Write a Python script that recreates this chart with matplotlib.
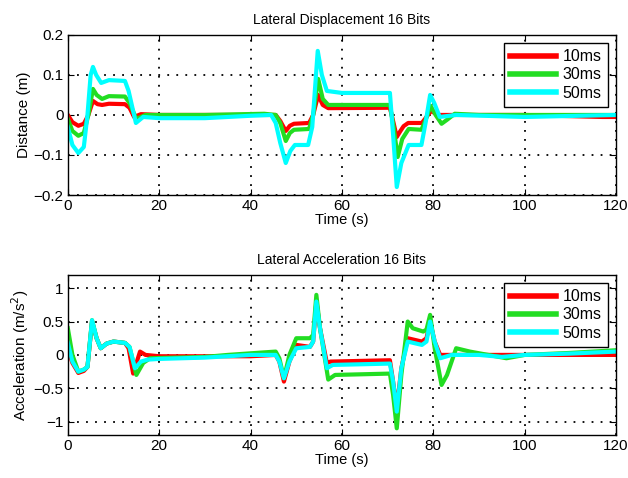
import numpy as np
import matplotlib
matplotlib.use("Agg")
import matplotlib.pyplot as plt

plt.rcParams['font.family'] = ['Liberation Sans', 'DejaVu Sans']

labels = ['10ms', '30ms', '50ms']
colors = ['#ff0000', '#22dd22', '#00ffff']

# lateral displacement (m)
d10_t = [0, 1, 2.3, 3.5, 4.5, 5.5, 6.5, 7.5, 9, 12.5, 13.5, 14.5, 16, 20, 45.5, 46.5, 47.7, 48.6, 49.5, 52.8, 53.7,
         54.8, 55.8, 57, 70.5, 71.3, 72, 72.8, 73.5, 74.5, 77.5, 78.5, 79.5, 81, 100, 117, 120]
d10_y = [0.0, -0.018, -0.027, -0.022, 0.0, 0.035, 0.027, 0.025, 0.028, 0.027, 0.018, -0.005, 0.002, 0.0, 0.0,
         -0.015, -0.04, -0.027, -0.022, -0.02, 0.0, 0.05, 0.025, 0.017, 0.018, -0.02, -0.055, -0.04, -0.028,
         -0.02, -0.02, -0.005, 0.01, 0.0, 0.0, -0.005, -0.005]
d30_t = [0, 1, 2.3, 3.5, 4.5, 5.5, 6.3, 7.5, 9, 12.5, 13.5, 15, 17, 30, 43, 45.5, 46.5, 47.7, 48.6, 49.5, 52.8,
         53.7, 54.8, 55.8, 57, 70.5, 71.3, 72.2, 73.2, 74.6, 77.4, 78.4, 79.4, 80.5, 81.8, 83, 84.7, 90, 120]
d30_y = [-0.01, -0.04, -0.052, -0.045, 0.0, 0.065, 0.05, 0.04, 0.047, 0.046, 0.03, -0.01, 0.0, 0.0, 0.003, 0.0,
         -0.02, -0.065, -0.045, -0.037, -0.035, 0.0, 0.09, 0.04, 0.025, 0.025, -0.03, -0.105, -0.06, -0.035,
         -0.037, -0.01, 0.023, 0.0, -0.022, -0.012, 0.003, 0.0, 0.0]
d50_t = [0, 1, 2.3, 3.5, 4.3, 5.0, 5.5, 6.2, 7.3, 9, 12.5, 13.3, 14.9, 16.5, 20, 30, 40, 44.5, 45.5, 46.5, 47.7,
         48.7, 49.7, 52.6, 53.5, 54.7, 55.6, 56.7, 60, 70.5, 71.2, 72, 73, 74.6, 77.4, 78.3, 79.3, 80.2, 81.4,
         85, 100, 120]
d50_y = [-0.03, -0.075, -0.095, -0.08, 0.0, 0.1, 0.12, 0.1, 0.08, 0.087, 0.085, 0.06, -0.02, -0.005, -0.008,
         -0.008, -0.002, 0.0, -0.02, -0.07, -0.12, -0.09, -0.075, -0.075, -0.03, 0.16, 0.1, 0.06, 0.055, 0.055,
         -0.05, -0.18, -0.12, -0.075, -0.075, -0.02, 0.05, 0.03, -0.005, 0.0, -0.005, 0.0]

# lateral acceleration (m/s^2)
a10_t = [0, 1, 2.3, 3.5, 4.3, 5.3, 6.3, 7.2, 8.5, 10, 12.5, 13.3, 14.3, 15.8, 17, 20, 40, 45.5, 46.3, 47.3, 48.5,
         50, 53, 53.7, 54.4, 55.2, 56.7, 57.5, 70.5, 71.2, 72, 73, 74.4, 77.5, 78.5, 79.3, 80.3, 81.5, 84, 120]
a10_y = [0.1, -0.12, -0.27, -0.24, -0.18, 0.5, 0.25, 0.1, 0.17, 0.2, 0.18, 0.1, -0.28, 0.05, 0.0, -0.02, -0.02,
         0.0, -0.1, -0.4, -0.1, 0.15, 0.12, 0.2, 0.8, 0.4, -0.12, -0.1, -0.08, -0.4, -0.8, -0.2, 0.25, 0.2, 0.25,
         0.5, 0.2, 0.0, 0.0, 0.0]
a30_t = [0, 1, 2.3, 3.5, 4.3, 5.3, 6.3, 7.2, 8.5, 10, 12.5, 13.5, 15, 16.5, 18, 30, 35, 45.5, 46.3, 47.3, 48.5,
         50, 53, 53.7, 54.4, 55.2, 57, 58.5, 70.5, 71.2, 72, 73, 74.4, 75.5, 77.8, 78.5, 79.3, 80.3, 81.8, 83,
         85, 88, 92, 96, 100, 110, 120]
a30_y = [0.4, 0.0, -0.25, -0.22, -0.18, 0.52, 0.25, 0.1, 0.17, 0.2, 0.18, 0.12, -0.3, -0.12, -0.05, -0.03, 0.0,
         0.05, -0.05, -0.35, 0.0, 0.25, 0.25, 0.3, 0.9, 0.4, -0.37, -0.3, -0.28, -0.6, -1.1, -0.3, 0.5, 0.4,
         0.35, 0.38, 0.6, 0.1, -0.45, -0.3, 0.1, 0.05, 0.0, -0.05, 0.0, 0.03, 0.07]
a50_t = [0, 1, 2.3, 3.5, 4.3, 5.3, 6.3, 7.2, 8.5, 10, 12.5, 13.5, 14.7, 16, 17.5, 20, 30, 40, 45.5, 46.3, 47.3,
         48.5, 50, 53, 53.7, 54.4, 55.2, 56.7, 58, 70.5, 71.2, 72, 73, 74.4, 77.5, 78.5, 79.3, 80.3, 81.5, 84,
         90, 95, 100, 110, 120]
a50_y = [0.18, -0.1, -0.25, -0.22, -0.18, 0.52, 0.25, 0.1, 0.17, 0.2, 0.18, 0.12, -0.2, -0.1, -0.07, -0.06,
         -0.04, 0.0, 0.0, -0.1, -0.35, -0.1, 0.1, 0.12, 0.2, 0.8, 0.4, -0.2, -0.15, -0.13, -0.4, -0.85, -0.2,
         0.2, 0.15, 0.2, 0.5, 0.2, -0.05, 0.0, 0.0, -0.03, 0.0, 0.02, 0.05]

disp = [(d10_t, d10_y), (d30_t, d30_y), (d50_t, d50_y)]
acc = [(a10_t, a10_y), (a30_t, a30_y), (a50_t, a50_y)]

fig = plt.figure(figsize=(6.28, 4.78), dpi=100)
ax1 = fig.add_axes([0.108, 0.592, 0.873, 0.335])
ax2 = fig.add_axes([0.108, 0.090, 0.873, 0.335])

def style(ax, data, title, ylabel, ylim, yticks, yticklabels):
    for (t, y), c, lab in zip(data, colors, labels):
        ax.plot(t, y, color=c, lw=3, label=lab, solid_joinstyle='round')
    ax.set_xlim(0, 120)
    ax.set_ylim(*ylim)
    ax.set_xticks([0, 20, 40, 60, 80, 100, 120])
    ax.set_yticks(yticks)
    ax.set_yticklabels(yticklabels)
    ax.grid(True, color='black', linestyle=(0, (1, 4)), linewidth=1.3)
    ax.tick_params(direction='in', labelsize=11, length=4, top=True, right=True, pad=3)
    for s in ax.spines.values():
        s.set_linewidth(1.0)
    ax.set_title(title, fontsize=10, pad=8)
    ax.set_xlabel('Time (s)', fontsize=10.5, labelpad=0)
    ax.set_ylabel(ylabel, fontsize=11, labelpad=2)
    leg = ax.legend(loc='upper right', fontsize=11.5, handlelength=2.9, fancybox=False,
                    edgecolor='black', framealpha=1, borderaxespad=0.5, labelspacing=0.2,
                    handletextpad=0.4, borderpad=0.4)
    leg.get_frame().set_linewidth(1.0)
    for h in leg.get_lines():
        h.set_linewidth(4)

style(ax1, disp, 'Lateral Displacement 16 Bits', 'Distance (m)', (-0.2, 0.2),
      [-0.2, -0.1, 0, 0.1, 0.2], ['\u22120.2', '\u22120.1', '0', '0.1', '0.2'])
style(ax2, acc, 'Lateral Acceleration 16 Bits', 'Acceleration (m/s$^2$)', (-1.2, 1.2),
      [-1, -0.5, 0, 0.5, 1], ['\u22121', '\u22120.5', '0', '0.5', '1'])

fig.savefig('out.png', dpi=100)
